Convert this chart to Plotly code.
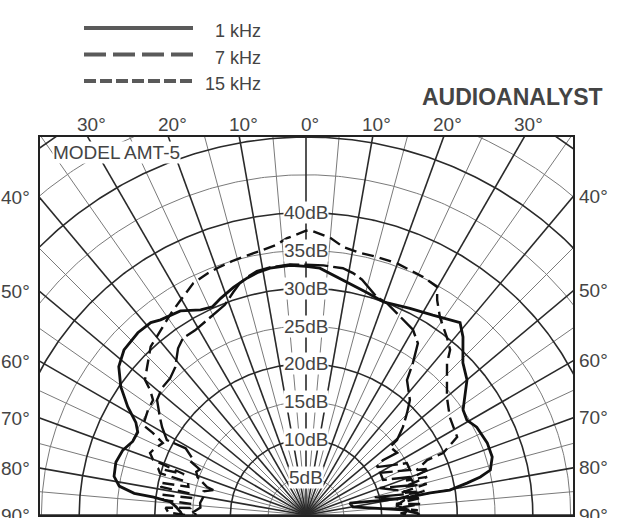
import numpy as np
import plotly.graph_objects as go

# ---- Polar response, angle off axis (deg, negative = left) and level (dB) ----
ANGLE_1K = [-90.0, -88.6, -86.5, -84.5, -83.3, -82.8, -81.2, -78.6, -74.5, -70.5,
            -67.0, -63.8, -61.5, -58.7, -55.3, -51.6, -47.8, -42.7, -38.9, -36.7,
            -31.6, -27.2, -24.2, -21.5, -17.7, -13.9, -11.4, -8.3, -3.6, 0.0,
            3.2, 8.9, 15.4, 19.9, 26.7, 32.4, 38.7, 41.4, 43.6, 45.9,
            50.0, 56.2, 59.5, 62.8, 68.3, 72.7, 76.3, 77.7, 78.8, 80.2,
            79.9, 80.2, 79.5, 76.5, 74.7, 80.3, 84.4, 87.0, 89.0, 90.0]
LEVEL_1K = [16.4, 16.6, 17.2, 18.0, 20.3, 22.9, 25.0, 25.9, 26.1, 25.7,
            24.9, 24.8, 25.6, 27.6, 29.8, 31.6, 32.5, 32.8, 32.7, 32.2,
            31.7, 30.5, 30.2, 30.8, 31.6, 32.3, 32.7, 33.0, 33.1, 32.9,
            32.7, 31.5, 30.5, 30.0, 30.6, 31.3, 32.6, 31.4, 30.1, 28.9,
            27.8, 25.0, 24.7, 25.4, 25.8, 25.8, 25.1, 23.6, 21.7, 19.3,
            16.7, 14.0, 10.9, 7.3, 6.0, 6.3, 9.4, 12.8, 14.7, 15.0]

ANGLE_7K = [-90.0, -88.5, -86.0, -83.5, -80.1, -77.0, -75.0, -74.2, -72.0, -70.8,
            -68.5, -66.8, -65.0, -63.5, -61.0, -61.7, -58.6, -56.1, -52.3, -48.6,
            -44.8, -41.5, -37.5, -34.8, -31.0, -26.9, -21.1, -18.1, -15.9, -13.9,
            -11.4, -8.3, -3.7, 0.0,
            4.0, 8.5, 11.0, 13.4, 18.0, 20.9, 25.4, 30.0, 33.1, 35.1,
            36.8, 42.1, 44.7, 47.8, 50.5, 51.0, 55.7, 54.5, 55.9, 62.8,
            66.6, 60.4, 65.6, 69.9, 74.6, 69.9, 78.9, 75.4, 81.4, 84.0,
            87.0, 90.0]
LEVEL_7K = [14.5, 14.9, 14.0, 14.1, 13.8, 13.9, 12.7, 13.6, 14.6, 15.2,
            15.6, 15.3, 16.9, 16.8, 18.2, 20.9, 22.3, 23.3, 24.9, 25.4,
            25.5, 26.1, 27.8, 28.5, 28.5, 28.9, 29.8, 31.0, 31.9, 32.4,
            32.9, 33.1, 33.2, 33.1,
            33.1, 33.0, 32.6, 32.0, 30.3, 30.0, 29.0, 28.3, 27.1, 24.6,
            22.3, 20.5, 19.0, 17.3, 15.6, 14.3, 14.6, 12.5, 11.3, 15.0,
            15.0, 11.3, 11.2, 14.6, 15.0, 10.4, 15.1, 9.4, 13.2, 12.0,
            13.5, 13.0]

ANGLE_15K = [-90.0, -89.0, -87.0, -86.5, -84.5, -84.0, -82.0, -81.5, -79.5, -79.0,
             -77.5, -76.5, -74.5, -74.0, -72.5, -71.5, -70.2, -68.3, -66.0, -63.3,
             -61.8, -61.1, -56.4, -53.1, -51.3, -50.0, -47.1, -42.7, -38.1, -33.8,
             -30.3, -25.9, -22.2, -19.7, -15.9, -9.2, -6.5, -3.9, 0.0,
             0.8, 5.0, 7.9, 11.6, 15.4, 19.9, 23.0, 26.2, 29.9, 31.4,
             34.1, 38.4, 41.1, 42.9, 50.1, 55.8, 62.7, 65.7, 65.6, 67.9,
             69.5, 71.0, 72.5, 74.0, 75.5, 77.0, 78.5, 80.0, 81.5, 83.0,
             84.5, 86.0, 87.5, 89.0, 90.0]
LEVEL_15K = [16.0, 18.2, 18.6, 15.3, 15.0, 19.0, 19.4, 15.2, 15.5, 19.5,
             19.8, 16.0, 16.2, 20.1, 20.5, 17.0, 21.5, 22.2, 21.8, 21.2,
             23.0, 24.6, 25.1, 25.3, 26.4, 27.8, 28.7, 30.3, 31.1, 32.1,
             32.9, 34.1, 34.5, 34.7, 35.0, 35.5, 35.9, 36.7, 37.6,
             37.7, 36.8, 35.8, 35.4, 35.4, 35.4, 35.2, 35.1, 34.8, 33.3,
             31.6, 30.0, 29.0, 27.4, 24.3, 23.0, 22.5, 19.9, 17.6, 15.8,
             17.5, 14.0, 16.8, 13.5, 16.5, 12.8, 16.0, 12.5, 15.5, 12.0,
             15.2, 11.8, 14.8, 12.5, 14.0]

SERIES_NAMES = ["1 kHz", "7 kHz", "15 kHz"]
SERIES_ANGLES = [ANGLE_1K, ANGLE_7K, ANGLE_15K]
SERIES_LEVELS = [LEVEL_1K, LEVEL_7K, LEVEL_15K]

# Chart paper scales
LEVEL_LABELS = [5, 10, 15, 20, 25, 30, 35, 40]
TOP_ANGLES = [-30, -20, -10, 0, 10, 20, 30]
SIDE_ANGLES = [40, 50, 60, 70, 80, 90]
GRID_LEVELS = list(range(5, 65, 5))
GRID_ANGLES = list(range(-90, 95, 5))

# ---- styling / page geometry ----
W, H = 629, 518
FRAME_L, FRAME_R, FRAME_T, FRAME_B = 40, 573, 137, 515
ORIGIN_X = 306
DB_TOP = 50.0
PX_PER_DB = (FRAME_B - FRAME_T) / DB_TOP
X_MIN = -(ORIGIN_X - FRAME_L) / PX_PER_DB
X_MAX = (FRAME_R - ORIGIN_X) / PX_PER_DB

KEY_X0, KEY_X1, KEY_TEXT_X = 84, 193, 263      # key sample line ends, text right edge
KEY_ROW0, KEY_ROW_STEP = 28, 26.5              # key row positions (px from top)

FONT = "Liberation Sans, Arial, Helvetica, sans-serif"
TEXT_COLOR = "#444444"
INK = "#111111"
STYLES = {
    "1 kHz": dict(dash="solid", width=2.8),
    "7 kHz": dict(dash="24px,5px", width=2.4),
    "15 kHz": dict(dash="12px,6px", width=2.4),
}
LEGEND_STYLES = {
    "1 kHz": "solid",
    "7 kHz": "22px,7px",
    "15 kHz": "12px,4px",
}


def polar_xy(angle_deg, level_db):
    a = np.radians(np.asarray(angle_deg, dtype=float))
    r = np.asarray(level_db, dtype=float)
    return r * np.sin(a), r * np.cos(a)


def joined(segments):
    xs, ys = [], []
    for x, y in segments:
        xs.extend(x.tolist() + [None])
        ys.extend(y.tolist() + [None])
    return xs, ys


fig = go.Figure()

# Grid: concentric level rings and angle spokes
arc = np.linspace(-90, 90, 361)
for major in (False, True):
    rings = [polar_xy(arc, np.full_like(arc, lv)) for lv in GRID_LEVELS
             if (lv % 10 == 0) == major]
    spokes = [polar_xy([a, a], [0, 70]) for a in GRID_ANGLES
              if (a % 10 == 0) == major]
    color = "#2a2a2a" if major else "#7a7a7a"
    width = 1.6 if major else 1.0
    for segs in (rings, spokes):
        xs, ys = joined(segs)
        fig.add_trace(go.Scatter(x=xs, y=ys, mode="lines",
                                 line=dict(color=color, width=width),
                                 hoverinfo="skip", showlegend=False))

# Response curves
for name, ang, lev in zip(SERIES_NAMES, SERIES_ANGLES, SERIES_LEVELS):
    x, y = polar_xy(ang, lev)
    st = STYLES[name]
    fig.add_trace(go.Scatter(x=x, y=y, mode="lines", name=name,
                             line=dict(color=INK, width=st["width"], dash=st["dash"]),
                             showlegend=False))

# Key samples on their own small axes
key_span = (89 - 20) / KEY_ROW_STEP
key_top = -(KEY_ROW0 - 20) / KEY_ROW_STEP
for row, name in enumerate(SERIES_NAMES):
    fig.add_trace(go.Scatter(x=[0, 1], y=[row, row], mode="lines",
                             xaxis="x2", yaxis="y2", showlegend=False,
                             line=dict(color="#5a5a5a", width=4,
                                       dash=LEGEND_STYLES[name])))

ann = []
# dB labels up the axis
for lv in LEVEL_LABELS:
    ann.append(dict(x=0, y=lv, xref="x", yref="y", text=f"{lv}dB", showarrow=False,
                    xanchor="center", yanchor="middle",
                    font=dict(size=19, color=TEXT_COLOR, family=FONT),
                    bgcolor="white", borderpad=0))
# angle labels along the top edge
for a in TOP_ANGLES:
    ann.append(dict(x=DB_TOP * np.tan(np.radians(a)), y=DB_TOP, xref="x", yref="y",
                    text=f"{abs(a)}°", showarrow=False, xanchor="center",
                    yanchor="bottom", xshift=4, yshift=0,
                    font=dict(size=19, color=TEXT_COLOR, family=FONT)))
# angle labels along both sides
for a in SIDE_ANGLES:
    t = np.tan(np.radians(a))
    for xe, anchor, shift in ((X_MIN, "right", -8), (X_MAX, "left", 4)):
        ye = abs(xe) / t if a < 90 else 0.0
        ann.append(dict(x=xe, y=ye, xref="x", yref="y", text=f"{a}°",
                        showarrow=False, xanchor=anchor, yanchor="middle",
                        xshift=shift,
                        font=dict(size=19, color=TEXT_COLOR, family=FONT)))
# key text
for row, name in enumerate(SERIES_NAMES):
    ann.append(dict(x=KEY_TEXT_X / W, y=1 - (KEY_ROW0 + KEY_ROW_STEP * row + 3) / H,
                    xref="paper", yref="paper", text=name, showarrow=False,
                    xanchor="right", yanchor="middle",
                    font=dict(size=18, color=TEXT_COLOR, family=FONT)))
ann.append(dict(x=512 / W, y=1 - 97 / H, xref="paper", yref="paper",
                text="<b>AUDIOANALYST</b>", showarrow=False,
                xanchor="center", yanchor="middle",
                font=dict(size=23, color=TEXT_COLOR, family=FONT)))
ann.append(dict(x=52 / W, y=1 - 152 / H, xref="paper", yref="paper",
                text="MODEL AMT-5", showarrow=False, xanchor="left",
                yanchor="middle", bgcolor="white", borderpad=0,
                font=dict(size=19, color=TEXT_COLOR, family=FONT)))

axis_common = dict(showgrid=False, zeroline=False, showticklabels=False,
                   ticks="", fixedrange=True)

fig.update_layout(
    width=W, height=H,
    margin=dict(l=0, r=0, t=0, b=0),
    paper_bgcolor="white", plot_bgcolor="white",
    showlegend=False,
    xaxis=dict(domain=[FRAME_L / W, FRAME_R / W], range=[X_MIN, X_MAX],
               showline=True, mirror=True, linecolor="#222", linewidth=2,
               **axis_common),
    yaxis=dict(domain=[1 - FRAME_B / H, 1 - FRAME_T / H], range=[0, DB_TOP],
               showline=True, mirror=True, linecolor="#222", linewidth=2,
               **axis_common),
    xaxis2=dict(domain=[KEY_X0 / W, KEY_X1 / W], range=[0, 1], anchor="y2",
                visible=False, fixedrange=True),
    yaxis2=dict(domain=[1 - 89 / H, 1 - 20 / H], range=[key_top + key_span, key_top],
                anchor="x2", visible=False, fixedrange=True),
    annotations=ann,
)

fig.write_html("out.html")
